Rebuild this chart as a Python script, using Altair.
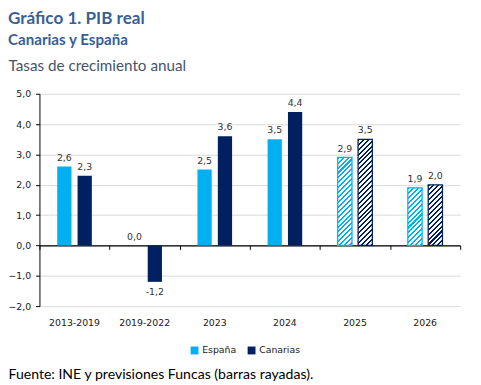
import altair as alt
import pandas as pd

categories = ["2013-2019", "2019-2022", "2023", "2024", "2025", "2026"]
espana = [2.6, 0.0, 2.5, 3.5, 2.9, 1.9]
canarias = [2.3, -1.2, 3.6, 4.4, 3.5, 2.0]
forecast = [False, False, False, False, True, True]
series = ["España", "Canarias"]
colors = ["#00B0F0", "#002060"]

W, H = 428, 216
YMIN, YMAX = -2, 5
PX_PER_UNIT = H / (YMAX - YMIN)
STEP = W / len(categories)
P_IN, P_OUT = 0.3, 0.872
BAR_W = STEP / (2 - P_IN + 2 * P_OUT) * (1 - P_IN)


def hatch(color, value, period=5.0, frac=0.42):
    w = BAR_W
    h = abs(value) * PX_PER_UNIT
    s = (w + h) / (w * w + h * h)
    n = (w + h) / period
    stops = []
    k = 0
    while k / n < 1:
        a = k / n
        b = min((k + frac) / n, 1)
        c = min((k + 1) / n, 1)
        stops += [{"offset": a, "color": color}, {"offset": b, "color": color}]
        if b < 1:
            stops += [{"offset": b, "color": "#ffffff"}, {"offset": c, "color": "#ffffff"}]
        k += 1
    return {"gradient": "linear", "x1": 0, "y1": 0, "x2": s * w, "y2": s * h, "stops": stops}


rows = []
for i, cat in enumerate(categories):
    for serie, vals, col in zip(series, [espana, canarias], colors):
        v = vals[i]
        rows.append({
            "cat": cat,
            "serie": serie,
            "value": v,
            "label": f"{v:.1f}".replace(".", ","),
            "forecast": forecast[i],
            "grad": hatch(col, v) if forecast[i] else col,
        })
df = pd.DataFrame(rows)

FONT_T = "Lato"
FONT_A = "DejaVu Sans"

xscale = alt.Scale(domain=categories, paddingInner=0, paddingOuter=0)
xoff = alt.XOffset("serie:N", sort=series,
                   scale=alt.Scale(domain=series, paddingInner=P_IN, paddingOuter=P_OUT))
yscale = alt.Scale(domain=[YMIN, YMAX], nice=False, zero=False)
cscale = alt.Scale(domain=series, range=colors)

base = alt.Chart(df)

yaxis = alt.Axis(
    values=list(range(YMIN, YMAX + 1)),
    labelExpr="replace(format(datum.value, '.1f'), '.', ',')",
    grid=True, gridColor="#d9d9d9", gridWidth=1,
    domain=True, domainColor="#000000", domainWidth=1,
    ticks=True, tickColor="#000000", tickSize=4,
    labelFont=FONT_A, labelFontSize=9.5, labelColor="#1a1a1a", labelPadding=5,
    title="Tasas de crecimiento anual", titleAngle=0, titleAlign="left",
    titleBaseline="alphabetic", titleX=-32, titleY=-24,
    titleFont=FONT_T, titleFontSize=15.5, titleFontWeight="normal", titleColor="#44546A",
)

label_axis = alt.Axis(
    orient="bottom", domain=False, ticks=False, grid=False, labelAngle=0,
    labelFont=FONT_A, labelFontSize=9.5, labelColor="#1a1a1a", labelPadding=12,
    title="Fuente: INE y previsiones Funcas (barras rayadas).",
    titleX=-32, titleY=74, titleAlign="left", titleBaseline="alphabetic",
    titleAnchor="start",
    titleFont=FONT_T, titleFontSize=14.3, titleFontWeight="normal", titleColor="#000000",
)

zero_axis = alt.Axis(
    orient="bottom", offset=-(H * (0 - YMIN) / (YMAX - YMIN)),
    domain=True, domainColor="#000000", domainWidth=1.2,
    ticks=True, tickBand="extent", tickColor="#000000", tickSize=4,
    labels=False, grid=False, title=None,
)

Y = alt.Y("value:Q", scale=yscale, axis=yaxis)

solid = base.transform_filter("!datum.forecast").mark_bar().encode(
    x=alt.X("cat:N", sort=categories, scale=xscale, axis=label_axis),
    xOffset=xoff,
    y=Y,
    color=alt.Color(
        "serie:N", sort=series, scale=cscale,
        legend=alt.Legend(
            title=None, orient="none", direction="horizontal",
            legendX=153, legendY=256, padding=0,
            symbolType="square", symbolSize=64, symbolStrokeWidth=0,
            labelFont=FONT_A, labelFontSize=9.5, labelColor="#1a1a1a",
            labelOffset=3, columnPadding=10,
        ),
    ),
)

hatched = base.transform_filter("datum.forecast").mark_bar(strokeWidth=1.3).encode(
    x=alt.X("cat:N", sort=categories, scale=xscale, axis=None),
    xOffset=xoff,
    y=Y,
    fill=alt.Fill("grad:N", scale=None),
    stroke=alt.Stroke("serie:N", sort=series, scale=cscale, legend=None),
)

zero = base.transform_calculate(zero_v="0").mark_point(opacity=0).encode(
    x=alt.X("cat:N", sort=categories, scale=xscale, axis=zero_axis),
    y=alt.Y("zero_v:Q", scale=yscale, axis=yaxis),
)

txt_style = dict(font=FONT_A, fontSize=9.5, color="#333333")
pos_text = base.transform_filter("datum.value >= 0").mark_text(
    baseline="bottom", dy=-4, **txt_style).encode(
    x=alt.X("cat:N", sort=categories, scale=xscale, axis=None),
    xOffset=xoff,
    y=Y,
    text="label:N",
)
neg_text = base.transform_filter("datum.value < 0").mark_text(
    baseline="top", dy=5, **txt_style).encode(
    x=alt.X("cat:N", sort=categories, scale=xscale, axis=None),
    xOffset=xoff,
    y=Y,
    text="label:N",
)

chart = alt.layer(solid, hatched, zero, pos_text, neg_text).resolve_axis(
    x="independent"
).properties(
    width=W, height=H,
    background="#ffffff",
    autosize=alt.AutoSizeParams(type="none"),
    padding={"left": 32, "top": 84, "right": 13, "bottom": 77},
    title=alt.TitleParams(
        text="Gráfico 1. PIB real",
        subtitle="Canarias y España",
        anchor="start", frame="group", dx=-32,
        font=FONT_T, fontSize=17.4, fontWeight="bold", color="#3A5F96",
        subtitleFont=FONT_T, subtitleFontSize=15.4, subtitleFontWeight="bold",
        subtitleColor="#3A5F96", subtitlePadding=6, offset=10,
    ),
).configure_view(stroke=None)

chart.save("out.html", embed_options={"renderer": "svg", "actions": False})
